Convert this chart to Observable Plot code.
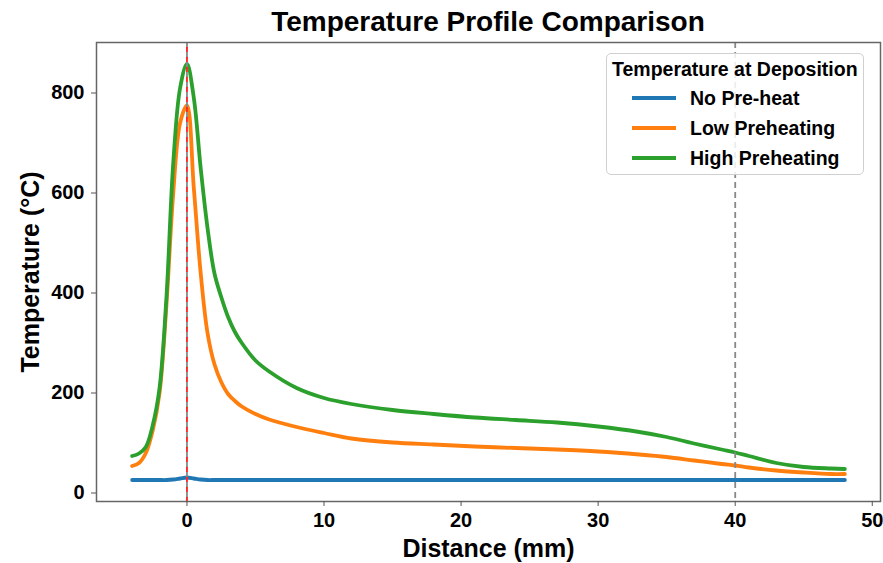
<!DOCTYPE html>
<html><head><meta charset="utf-8">
<script src="https://cdn.jsdelivr.net/npm/d3@7"></script>
<script src="https://cdn.jsdelivr.net/npm/@observablehq/plot@0.6"></script>
<style>
body{margin:0;background:#fff;font-family:"Liberation Sans",Arial,sans-serif;}
#wrap{position:relative;width:883px;height:563px;}
#title{position:absolute;left:96px;width:784px;top:4px;text-align:center;font-weight:bold;font-size:28px;line-height:36px;color:#000;}
#legend{position:absolute;left:606px;top:53px;width:256px;height:120px;border:1.5px solid #d0d0d0;border-radius:5px;background:rgba(255,255,255,0.85);box-sizing:content-box;}
#legend .lt{position:absolute;left:5px;top:3px;font-weight:bold;font-size:19.5px;line-height:24px;white-space:nowrap;}
#legend .row{position:absolute;left:25px;height:24px;white-space:nowrap;}
#legend .sw{position:absolute;left:0;top:10px;width:44px;height:3.6px;}
#legend .lb{position:absolute;left:58px;top:0;font-weight:bold;font-size:19.5px;line-height:24px;}
</style></head><body>
<div id="wrap"><div id="chart"></div><div id="title">Temperature Profile Comparison</div><div id="legend"></div></div>
<script>
const distance = [-4, -3.5, -3, -2.5, -2, -1.5, -1, -0.5, 0, 0.5, 1, 1.5, 2, 2.5, 3, 3.5, 4, 5, 6, 8, 10, 12, 15, 18, 21, 24, 27, 30, 33, 35, 37, 39, 40, 41, 43, 45, 47, 48];
const noPreheat = [26, 26, 26, 26, 26, 26, 27, 29, 31, 29, 27, 26, 26, 26, 26, 26, 26, 26, 26, 26, 26, 26, 26, 26, 26, 26, 26, 26, 26, 26, 26, 26, 26, 26, 26, 26, 26, 26];
const lowPreheating = [54, 60, 80, 125, 200, 375, 600, 740, 775, 610, 440, 320, 258, 222, 198, 184, 173, 158, 147, 132, 120, 109, 101, 97, 93, 90, 87, 83, 77, 72, 65, 58, 55, 51, 45, 41, 38, 38];
const highPreheating = [74, 79, 92, 135, 210, 390, 660, 810, 858, 790, 650, 530, 440, 392, 352, 322, 300, 265, 243, 210, 190, 178, 166, 158, 151, 146, 141, 133, 122, 112, 99, 87, 81, 74, 60, 52, 49, 48];
const seriesNames = ["No Pre-heat", "Low Preheating", "High Preheating"];
const seriesColors = ["#1f77b4", "#ff7f0e", "#2ca02c"];
const xTicks = [0, 10, 20, 30, 40, 50];
const yTicks = [0, 200, 400, 600, 800];
const referenceLines = [0, 40];
const depositionLine = [0];
const titleText = "Temperature Profile Comparison";
const legendTitle = "Temperature at Deposition";
const xLabel = "Distance (mm)";
const yLabel = "Temperature (°C)";

const seriesValues = [noPreheat, lowPreheating, highPreheating];
const rows = [];
seriesValues.forEach((vals, i) => distance.forEach((d, j) => rows.push({series: seriesNames[i], d, t: vals[j]})));

const font = "Liberation Sans, Arial, sans-serif";
const chart = Plot.plot({
  width: 883, height: 563,
  marginTop: 42, marginBottom: 62, marginLeft: 96, marginRight: 3,
  style: {fontFamily: font, color: "#000", background: "#fff"},
  x: {domain: [-6.6, 50.6]},
  y: {domain: [-17, 901]},
  color: {domain: seriesNames, range: seriesColors},
  marks: [
    Plot.line(rows, {x: "d", y: "t", z: "series", stroke: "series", strokeWidth: 3.8, curve: "catmull-rom"}),
    Plot.ruleX(referenceLines, {stroke: "#888", strokeWidth: 1.8, strokeDasharray: "6,4"}),
    Plot.ruleX(depositionLine, {stroke: "#ff2020", strokeWidth: 1.8, strokeDasharray: "5,5", strokeDashoffset: 5}),
    Plot.frame({stroke: "#666", strokeWidth: 1.5}),
    Plot.axisX({ticks: xTicks, tickSize: 5, tickPadding: 6, stroke: "#555", fill: "#000", label: null, fontSize: 20, fontWeight: "bold", fontFamily: font}),
    Plot.axisY({ticks: yTicks, tickSize: 5, tickPadding: 7, stroke: "#555", fill: "#000", label: null, fontSize: 20, fontWeight: "bold", fontFamily: font}),
    Plot.text([xLabel], {text: d => d, frameAnchor: "bottom", dy: 47, fontSize: 25, fontWeight: "bold", fontFamily: font, fill: "#000", textAnchor: "middle", lineAnchor: "middle"}),
    Plot.text([yLabel], {text: d => d, frameAnchor: "left", dx: -66, rotate: -90, fontSize: 25, fontWeight: "bold", fontFamily: font, fill: "#000", textAnchor: "middle", lineAnchor: "middle"})
  ]
});
document.getElementById("chart").appendChild(chart);
document.getElementById("title").textContent = titleText;

const legend = document.getElementById("legend");
const lt = document.createElement("div");
lt.className = "lt"; lt.textContent = legendTitle; legend.appendChild(lt);
seriesNames.forEach((name, i) => {
  const row = document.createElement("div");
  row.className = "row"; row.style.top = (32 + i * 30) + "px";
  const sw = document.createElement("div"); sw.className = "sw"; sw.style.background = seriesColors[i];
  const lb = document.createElement("div"); lb.className = "lb"; lb.textContent = name;
  row.appendChild(sw); row.appendChild(lb); legend.appendChild(row);
});
</script>
</body></html>
